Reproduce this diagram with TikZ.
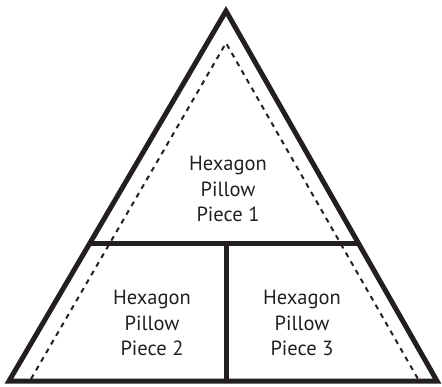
\documentclass[tikz,border=0pt]{standalone}
\usepackage{fontspec}
\setmainfont{PT Sans}
\usetikzlibrary{calc}
\definecolor{ink}{HTML}{231F20}
\begin{document}
\begin{tikzpicture}[x=1pt,y=-1pt,
  outline/.style={draw=ink,line width=5pt,line join=miter},
  cut/.style={draw=ink,line width=2pt,dash pattern=on 5pt off 5pt},
  lbl/.style={align=center,text=ink,font=\fontsize{20.5}{25.5}\selectfont,inner sep=0pt}]
\useasboundingbox (0,0) rectangle (442,386);
\coordinate (A) at (226,11);
\coordinate (L) at (9,381);
\coordinate (R) at (437,381);
\coordinate (DA) at (226,43);
\coordinate (DL) at (31,379);
\coordinate (DR) at (418,379);
\coordinate (ML) at ($(A)!0.6297!(L)$);
\coordinate (MR) at ($(A)!0.6297!(R)$);
\coordinate (VT) at (226,244);
\coordinate (VB) at (226,381);
\draw[cut] (DL) -- (DA) -- (DR);
\draw[outline] (A) -- (L) -- (R) -- cycle;
\draw[outline] (ML) -- (MR);
\draw[outline] (VT) -- (VB);
\node[lbl] (p1) at (228,189) {Hexagon\\Pillow\\Piece 1};
\node[lbl] (p2) at (152,323) {Hexagon\\Pillow\\Piece 2};
\node[lbl] (p3) at (302,323) {Hexagon\\Pillow\\Piece 3};
\end{tikzpicture}
\end{document}
